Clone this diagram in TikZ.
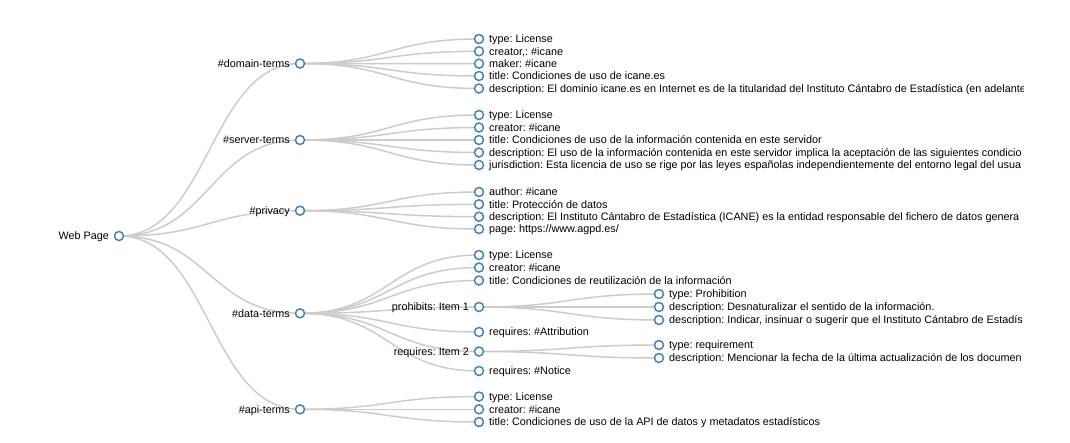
\documentclass[tikz,border=0pt]{standalone}
\usepackage{fontspec}
\setmainfont{Liberation Sans}
\usetikzlibrary{calc}
\pgfdeclarelayer{bg}
\pgfsetlayers{bg,main}
\definecolor{steel}{HTML}{4682B4}
\definecolor{linkc}{HTML}{CCCCCC}
\tikzset{
  dot/.style={circle, draw=steel, fill=white, line width=1.5pt, minimum size=9pt, inner sep=0pt},
  lbl/.style={inner sep=0pt, font=\fontsize{10.8}{12}\selectfont\frenchspacing, text=black},
  link/.style={draw=linkc, line width=1.5pt},
}
\newcommand\tnR[4]{\node[dot] (#1) at (#2,#3) {};
  \node[lbl, anchor=base west] (#1-t) at ([xshift=10pt,yshift=-3.7pt]#1.center) {#4};}
\newcommand\tnL[4]{\node[dot] (#1) at (#2,#3) {};
  \node[lbl, anchor=base east] (#1-t) at ([xshift=-10pt,yshift=-3.7pt]#1.center) {#4};}
\newcommand\lnk[2]{\path[link] let \p1=(#1.center), \p2=(#2.center) in
  (\p1) .. controls ({(\x1+\x2)/2},\y1) and ({(\x1+\x2)/2},\y2) .. (\p2);}
\begin{document}
\begin{tikzpicture}[x=1pt,y=-1pt]
\useasboundingbox (0,0) rectangle (1070,442);
\begin{scope}
\clip (0,0) rectangle (1023,442);
\tnL{root}{119}{236}{Web Page}
\tnL{dom}{300}{63.5}{\#domain-terms}
\tnL{srv}{300}{140}{\#server-terms}
\tnL{prv}{300}{210.7}{\#privacy}
\tnL{dat}{300}{313.3}{\#data-terms}
\tnL{api}{300}{409.3}{\#api-terms}
% domain
\tnR{d1}{479}{39}{type: License}
\tnR{d2}{479}{51.3}{creator,: \#icane}
\tnR{d3}{479}{63.7}{maker: \#icane}
\tnR{d4}{479}{76}{title: Condiciones de uso de icane.es}
\tnR{d5}{479}{88.5}{description: El dominio icane.es en Internet es de la titularidad del Instituto Cántabro de Estadística (en adelante}
% server
\tnR{s1}{479}{115}{type: License}
\tnR{s2}{479}{127.5}{creator: \#icane}
\tnR{s3}{479}{140}{title: Condiciones de uso de la información contenida en este servidor}
\tnR{s4}{479}{152.5}{description: El uso de la información contenida en este servidor implica la aceptación de las siguientes condicio}
\tnR{s5}{479}{165}{jurisdiction: Esta licencia de uso se rige por las leyes españolas independientemente del entorno legal del usua}
% privacy
\tnR{p1}{479}{192}{author: \#icane}
\tnR{p2}{479}{204.3}{title: Protección de datos}
\tnR{p3}{479}{216.7}{description: El Instituto Cántabro de Estadística (ICANE) es la entidad responsable del fichero de datos genera}
\tnR{p4}{479}{229}{page: https://www.agpd.es/}
% data
\tnR{t1}{479}{255}{type: License}
\tnR{t2}{479}{267.5}{creator: \#icane}
\tnR{t3}{479}{280.5}{title: Condiciones de reutilización de la información}
\tnL{t4}{479}{307}{prohibits: Item 1}
\tnR{t5}{479}{332}{requires: \#Attribution}
\tnL{t6}{479}{351.5}{requires: Item 2}
\tnR{t7}{479}{371}{requires: \#Notice}
\tnR{q1}{659}{294}{type: Prohibition}
\tnR{q2}{659}{307}{description: Desnaturalizar el sentido de la información.}
\tnR{q3}{659}{320}{description: Indicar, insinuar o sugerir que el Instituto Cántabro de Estadís}
\tnR{r1}{659}{345}{type: requirement}
\tnR{r2}{659}{358}{description: Mencionar la fecha de la última actualización de los documen}
% api
\tnR{a1}{479}{396.5}{type: License}
\tnR{a2}{479}{409.3}{creator: \#icane}
\tnR{a3}{479}{422}{title: Condiciones de uso de la API de datos y metadatos estadísticos}
\end{scope}
\begin{pgfonlayer}{bg}
\foreach \c in {dom,srv,prv,dat,api} {\lnk{root}{\c}}
\foreach \c in {d1,d2,d3,d4,d5} {\lnk{dom}{\c}}
\foreach \c in {s1,s2,s3,s4,s5} {\lnk{srv}{\c}}
\foreach \c in {p1,p2,p3,p4} {\lnk{prv}{\c}}
\foreach \c in {t1,t2,t3,t4,t5,t6,t7} {\lnk{dat}{\c}}
\foreach \c in {q1,q2,q3} {\lnk{t4}{\c}}
\foreach \c in {r1,r2} {\lnk{t6}{\c}}
\foreach \c in {a1,a2,a3} {\lnk{api}{\c}}
\end{pgfonlayer}
\end{tikzpicture}
\end{document}
